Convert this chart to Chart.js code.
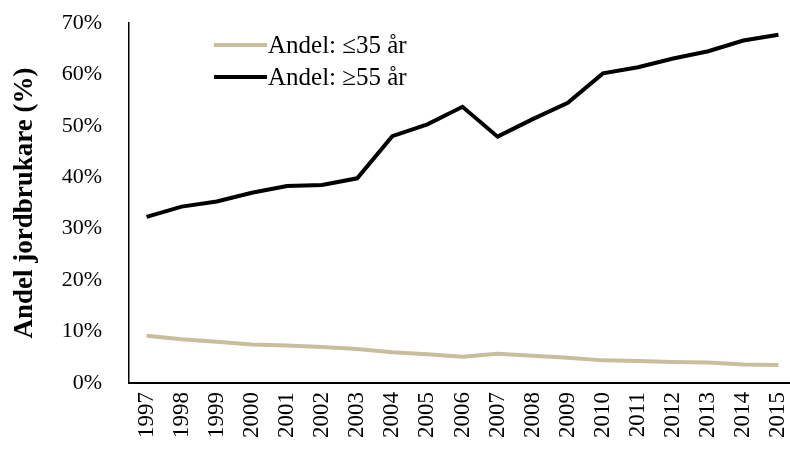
<!DOCTYPE html>
<html>
<head>
<meta charset="utf-8">
<script src="https://cdn.jsdelivr.net/npm/chart.js@4/dist/chart.umd.min.js"></script>
<style>
  html, body { margin: 0; padding: 0; overflow: hidden; background: #fff; }
  #wrap { width: 796px; height: 449px; position: relative; }
</style>
</head>
<body>
<div id="wrap"><canvas id="c"></canvas></div>
<script>
const years = ['1997','1998','1999','2000','2001','2002','2003','2004','2005','2006','2007','2008','2009','2010','2011','2012','2013','2014','2015'];
const youngShare = [9.2, 8.5, 8.0, 7.5, 7.3, 7.0, 6.6, 6.0, 5.6, 5.1, 5.7, 5.3, 4.9, 4.4, 4.3, 4.1, 4.0, 3.6, 3.5];
const oldShare = [32.3, 34.3, 35.3, 37.0, 38.3, 38.5, 39.8, 48.0, 50.3, 53.7, 47.9, 51.3, 54.5, 60.2, 61.4, 63.1, 64.5, 66.6, 67.7];
const seriesLabels = ['Andel: \u226435 \u00e5r', 'Andel: \u226555 \u00e5r'];
const yTicks = [0, 10, 20, 30, 40, 50, 60, 70];
const yTitle = 'Andel jordbrukare (%)';

const FONT = '"Liberation Serif", "DejaVu Serif", serif';

const legendPlugin = {
  id: 'stackedLegend',
  afterDraw(chart) {
    const ctx = chart.ctx;
    ctx.save();
    chart.data.datasets.forEach((ds, i) => {
      const y = 45 + i * 32;
      ctx.strokeStyle = ds.borderColor;
      ctx.lineWidth = 4;
      ctx.beginPath();
      ctx.moveTo(214, y);
      ctx.lineTo(267, y);
      ctx.stroke();
      ctx.fillStyle = '#000';
      ctx.font = '25px ' + FONT;
      ctx.textBaseline = 'middle';
      ctx.textAlign = 'left';
      ctx.fillText(ds.label, 268, y + 1);
    });
    ctx.restore();
  }
};

new Chart(document.getElementById('c'), {
  type: 'line',
  data: {
    labels: years,
    datasets: [
      { label: seriesLabels[0], data: youngShare, borderColor: 'rgb(200,190,155)', borderWidth: 4, pointRadius: 0, tension: 0, fill: false },
      { label: seriesLabels[1], data: oldShare, borderColor: '#000', borderWidth: 4, pointRadius: 0, tension: 0, fill: false }
    ]
  },
  options: {
    responsive: true,
    maintainAspectRatio: false,
    animation: false,
    layout: { padding: { top: 23, right: 0, left: 0, bottom: 0 } },
    plugins: { legend: { display: false }, tooltip: { enabled: false } },
    scales: {
      x: {
        offset: true,
        grid: { display: false, drawTicks: false },
        border: { display: true, color: '#000', width: 2 },
        ticks: { color: '#000', font: { family: FONT, size: 23 }, minRotation: 90, maxRotation: 90, padding: 9, autoSkip: false },
        afterFit: s => { s.height = 66; s.paddingLeft = 0; s.paddingRight = 0; }
      },
      y: {
        min: 0, max: 70,
        afterBuildTicks: s => { s.ticks = yTicks.map(v => ({ value: v })); },
        grid: { display: false, drawTicks: false },
        border: { display: true, color: '#000', width: 1.5 },
        ticks: { color: '#000', font: { family: FONT, size: 22 }, padding: 27, callback: v => v + '%' },
        title: { display: true, text: yTitle, color: '#000', font: { family: FONT, size: 27, weight: 'bold' }, padding: { top: 9, bottom: 0 } },
        afterFit: s => { s.width = 129; s.paddingTop = 0; s.paddingBottom = 0; }
      }
    }
  },
  plugins: [legendPlugin]
});
</script>
</body>
</html>
